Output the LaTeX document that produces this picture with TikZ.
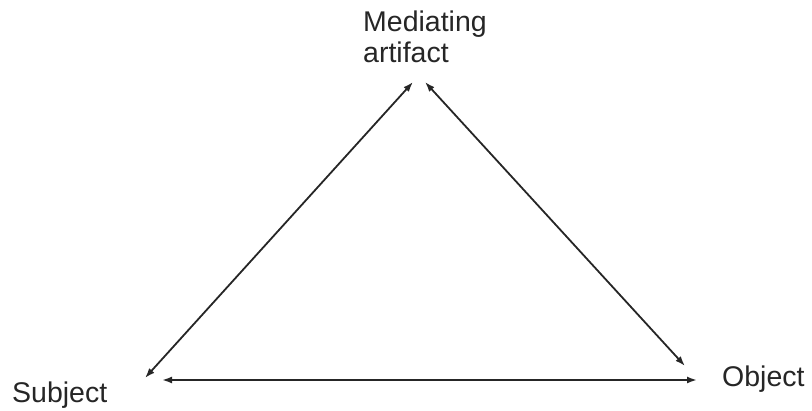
\documentclass[tikz,border=0pt]{standalone}
\usepackage{fontspec}
\setmainfont{Liberation Sans}
\usetikzlibrary{arrows.meta}
\begin{document}
\begin{tikzpicture}[x=1pt,y=-1pt,
  lbl/.style={inner sep=0pt,anchor=base west,font=\fontsize{28.5}{31}\selectfont,text=black!85},
  link/.style={line width=1.8pt,black!85,{Latex[length=10pt,width=7pt]}-{Latex[length=10pt,width=7pt]}}]
\useasboundingbox (0,0) rectangle (812,411);
\node[lbl,align=left] (med) at (363,63) {Mediating\\artifact};
\node[lbl] (subj) at (12,403) {Subject};
\node[lbl] (obj) at (722,387) {Object};
\coordinate (mL) at (413,82);
\coordinate (mR) at (425,82);
\coordinate (sA) at (145,378);
\coordinate (sB) at (162,380);
\coordinate (oA) at (685,366);
\coordinate (oB) at (697,380);
\draw[link] (sA) -- (mL);
\draw[link] (mR) -- (oA);
\draw[link] (sB) -- (oB);
\end{tikzpicture}
\end{document}
